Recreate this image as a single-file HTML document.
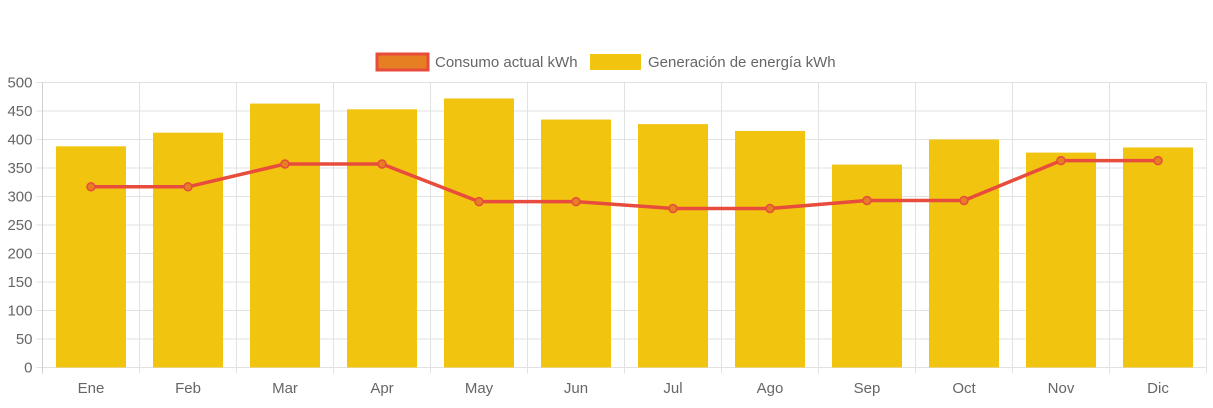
<!DOCTYPE html>
<html><head><meta charset="utf-8"><style>
body{margin:0;background:#fff;font-family:"Liberation Sans",sans-serif;}
svg text{font-family:"Liberation Sans",sans-serif;fill:#666;font-size:15px;}
</style></head><body>
<svg id="c" width="1213" height="403">
<g>
<rect x="377" y="54" width="51" height="16" fill="#e67e22" stroke="#e74c3c" stroke-width="3"/>
<text x="435" y="67">Consumo actual kWh</text>
<rect x="590" y="54" width="51" height="16" fill="#f1c40f"/>
<text x="648" y="67">Generación de energía kWh</text>
</g>
</svg>
<script>
const categories=["Ene","Feb","Mar","Apr","May","Jun","Jul","Ago","Sep","Oct","Nov","Dic"];
const generacion=[388,412,463,453,472,435,427,415,356,400,377,386];
const consumo=[317,317,357,357,291,291,279,279,293,293,363,363];
const yTicks=[0,50,100,150,200,250,300,350,400,450,500];
const NS="http://www.w3.org/2000/svg",svg=document.getElementById("c");
const L=42.5,R=1206.5,T=82.5,B=367.5,yMax=500;
const bw=(R-L)/categories.length;
const y=v=>B-(v/yMax)*(B-T);
const x=i=>L+bw*(i+0.5);
function mk(t,a){const e=document.createElementNS(NS,t);for(const k in a)e.setAttribute(k,a[k]);svg.appendChild(e);return e;}
yTicks.forEach(v=>{
 const g=mk("line",{x1:L-6,x2:R,y1:y(v),y2:y(v),stroke:"#e2e2e2","stroke-width":1});
 
 
 const t=mk("text",{x:L-10,y:y(v)+5,"text-anchor":"end"});t.textContent=v;
 
 
});
for(let i=0;i<=categories.length;i++){
 const g=mk("line",{x1:L+bw*i,x2:L+bw*i,y1:T,y2:B+6,stroke:i==0?"#cfcfcf":"#e2e2e2","stroke-width":1});
 
 
}
categories.forEach((c,i)=>{
 const t=mk("text",{x:x(i),y:393,"text-anchor":"middle"});t.textContent=c;
 
 
 const b=mk("rect",{x:x(i)-35,y:y(generacion[i]),width:70,height:B-y(generacion[i]),fill:"#f1c40f"});
 
 
});
const p=mk("polyline",{points:consumo.map((v,i)=>x(i)+","+y(v)).join(" "),fill:"none",stroke:"#e74c3c","stroke-width":3.5,"stroke-linejoin":"round"});


consumo.forEach((v,i)=>{
 const d=mk("circle",{cx:x(i),cy:y(v),r:4,fill:"#e67e22",stroke:"#e74c3c","stroke-width":1.5});
 
 
});
</script>
</body></html>
